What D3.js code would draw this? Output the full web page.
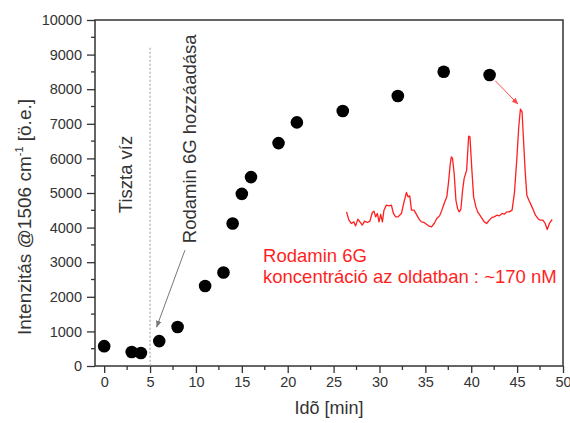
<!DOCTYPE html>
<html>
<head>
<meta charset="utf-8">
<script src="https://cdn.jsdelivr.net/npm/d3@7"></script>
<style>
    body { margin: 0; background: #fff; }
    svg text { font-family: "Liberation Sans", Arial, sans-serif; }
</style>
</head>
<body>
<div id="chart"></div>
<script>
// measured points: time [min] vs. intensity @1506 cm-1
const times = [0, 3, 4, 6, 8, 11, 13, 14, 15, 16, 19, 21, 26, 32, 37, 42];
const intensities = [573, 405, 376, 720, 1128, 2314, 2702, 4119, 4975, 5459, 6442, 7041, 7368, 7802, 8505, 8409];

const xTickValues = [0, 5, 10, 15, 20, 25, 30, 35, 40, 45, 50];
const yTickValues = [0, 1000, 2000, 3000, 4000, 5000, 6000, 7000, 8000, 9000, 10000];

// inset spectrum, traced in the chart's own units
const spectrumX = [26.41, 26.67, 26.93, 27.21, 27.40, 27.65, 27.87, 28.13, 28.38, 28.68, 28.96, 29.22, 29.40, 29.58, 29.77, 29.95,
    30.13, 30.32, 30.49, 30.75, 31.04, 31.30, 31.52, 31.77, 32.02, 32.39, 32.68, 32.94, 33.11, 33.30, 33.49, 33.77,
    34.07, 34.32, 34.58, 34.86, 35.16, 35.41, 35.67, 35.96, 36.25, 36.55, 36.80, 37.05, 37.34, 37.53, 37.70, 37.83,
    37.96, 38.14, 38.33, 38.51, 38.69, 38.87, 39.06, 39.23, 39.50, 39.72, 39.86, 40.07, 40.26, 40.51, 40.70, 40.87,
    41.17, 41.42, 41.68, 41.97, 42.26, 42.51, 42.78, 43.06, 43.36, 43.61, 43.87, 44.15, 44.45, 44.70, 44.96, 45.18,
    45.36, 45.54, 45.68, 45.87, 46.06, 46.28, 46.53, 46.78, 47.00, 47.26, 47.51, 47.80, 48.06, 48.28, 48.52, 48.82];
const spectrumY = [4455, 4215, 4119, 4165, 4050, 4244, 4165, 4070, 4186, 4148, 4186, 4437, 4475, 4310, 4408, 4165,
    4380, 4165, 4504, 4649, 4628, 4649, 4408, 4310, 4310, 4408, 4744, 5016, 4889, 4918, 4504, 4504,
    4359, 4244, 4165, 4148, 4090, 4041, 4021, 4119, 4264, 4339, 4504, 4698, 4889, 5323, 5806, 6046,
    5999, 5565, 4793, 4553, 4455, 4524, 5082, 5421, 5661, 6645, 6624, 5661, 4889, 4599, 4455, 4388,
    4264, 4165, 4119, 4215, 4293, 4310, 4359, 4339, 4408, 4388, 4455, 4455, 4504, 4987, 5950, 6913,
    7426, 7347, 6624, 5661, 4938, 4793, 4649, 4504, 4359, 4264, 4215, 4215, 4119, 3946, 4119, 4235];

const width = 570, height = 423;
const margin = { top: 20, right: 7, bottom: 57, left: 95 };
const axisColor = "#333";
const red = "#ff1f1f";

const svg = d3.select("#chart").append("svg")
    .attr("width", width)
    .attr("height", height);

const x = d3.scaleLinear().domain([-1, 50]).range([margin.left, width - margin.right]);
const y = d3.scaleLinear().domain([0, 10000]).range([height - margin.bottom, margin.top]);

const defs = svg.append("defs");
function addArrowHead(id, color)
{
    defs.append("marker")
        .attr("id", id)
        .attr("viewBox", "0 0 10 10")
        .attr("refX", 9).attr("refY", 5)
        .attr("markerWidth", 7).attr("markerHeight", 7)
        .attr("markerUnits", "userSpaceOnUse")
        .attr("orient", "auto")
        .append("path")
        .attr("d", "M0,1 L10,5 L0,9 Z")
        .attr("fill", color);
}
addArrowHead("head-gray", "#777");
addArrowHead("head-red", red);

// frame
svg.append("rect")
    .attr("x", x(-1)).attr("y", y(10000))
    .attr("width", x(50) - x(-1)).attr("height", y(0) - y(10000))
    .attr("fill", "none").attr("stroke", axisColor).attr("stroke-width", 1.5);

// minor ticks
const xMinor = d3.range(2.5, 50, 5);
const yMinor = d3.range(500, 10000, 1000);
svg.append("g").selectAll("line").data(xMinor).join("line")
    .attr("x1", d => x(d)).attr("x2", d => x(d))
    .attr("y1", y(0)).attr("y2", y(0) + 4)
    .attr("stroke", axisColor).attr("stroke-width", 1.3);
svg.append("g").selectAll("line").data(yMinor).join("line")
    .attr("x1", x(-1) - 4).attr("x2", x(-1))
    .attr("y1", d => y(d)).attr("y2", d => y(d))
    .attr("stroke", axisColor).attr("stroke-width", 1.3);

const xAxis = svg.append("g")
    .attr("transform", `translate(0,${y(0)})`)
    .call(d3.axisBottom(x).tickValues(xTickValues).tickFormat(d3.format("d")).tickSize(7).tickPadding(4));
const yAxis = svg.append("g")
    .attr("transform", `translate(${x(-1)},0)`)
    .call(d3.axisLeft(y).tickValues(yTickValues).tickFormat(d3.format("d")).tickSize(8).tickPadding(5));

[xAxis, yAxis].forEach(g => {
    g.select(".domain").remove();
    g.selectAll(".tick line").attr("stroke", axisColor).attr("stroke-width", 1.3);
    g.selectAll(".tick text")
        .attr("fill", "#333")
        .style("font-size", "14.5px")
        .style("font-family", "'Liberation Sans', Arial, sans-serif");
});

// axis titles
svg.append("text")
    .attr("x", (x(-1) + x(50)) / 2).attr("y", 414)
    .attr("text-anchor", "middle")
    .attr("fill", "#333")
    .style("font-size", "18px")
    .text("Idõ [min]");

const yTitle = svg.append("text")
    .attr("transform", `translate(31,217) rotate(-90)`)
    .attr("text-anchor", "middle")
    .attr("fill", "#333")
    .style("font-size", "19px");
yTitle.append("tspan").text("Intenzitás @1506 cm");
yTitle.append("tspan").attr("dy", -8).style("font-size", "11px").text("-1");
yTitle.append("tspan").attr("dy", 8).text(" [ö.e.]");

// dotted marker at t = 5 min
svg.append("line")
    .attr("x1", x(5)).attr("x2", x(5))
    .attr("y1", y(9200)).attr("y2", y(0))
    .attr("stroke", "#aaa").attr("stroke-width", 1.2)
    .attr("stroke-dasharray", "2,2");

// annotations
svg.append("text")
    .attr("transform", `translate(${x(3.02)},${y(4417)}) rotate(-90)`)
    .attr("fill", "#333")
    .style("font-size", "18.5px")
    .text("Tiszta víz");

svg.append("text")
    .attr("transform", `translate(${x(10.0)},${y(3549)}) rotate(-90)`)
    .attr("fill", "#333")
    .style("font-size", "18.5px")
    .text("Rodamin 6G hozzáadása");

svg.append("line")
    .attr("x1", x(8.80)).attr("y1", y(3347))
    .attr("x2", x(5.72)).attr("y2", y(1128))
    .attr("stroke", "#777").attr("stroke-width", 1)
    .attr("marker-end", "url(#head-gray)");

const redLabel = svg.append("text")
    .attr("fill", red)
    .style("font-size", "18.5px");
redLabel.append("tspan").attr("x", x(17.31)).attr("y", y(3008)).text("Rodamin 6G");
redLabel.append("tspan").attr("x", x(17.31)).attr("y", y(2392)).text("koncentráció az oldatban : ~170 nM");

// inset spectrum
const spectrum = spectrumX.map((v, i) => [v, spectrumY[i]]);
svg.append("path")
    .datum(spectrum)
    .attr("fill", "none")
    .attr("stroke", red)
    .attr("stroke-width", 1.3)
    .attr("stroke-linejoin", "round")
    .attr("d", d3.line().x(d => x(d[0])).y(d => y(d[1])));

svg.append("line")
    .attr("x1", x(42.62)).attr("y1", y(8244))
    .attr("x2", x(45.09)).attr("y2", y(7570))
    .attr("stroke", red).attr("stroke-width", 1)
    .attr("opacity", 0.8)
    .attr("marker-end", "url(#head-red)");

// data points
svg.append("g").selectAll("circle")
    .data(times.map((t, i) => [t, intensities[i]]))
    .join("circle")
    .attr("cx", d => x(d[0]))
    .attr("cy", d => y(d[1]))
    .attr("r", 6.3)
    .attr("fill", "#000");
</script>
</body>
</html>
